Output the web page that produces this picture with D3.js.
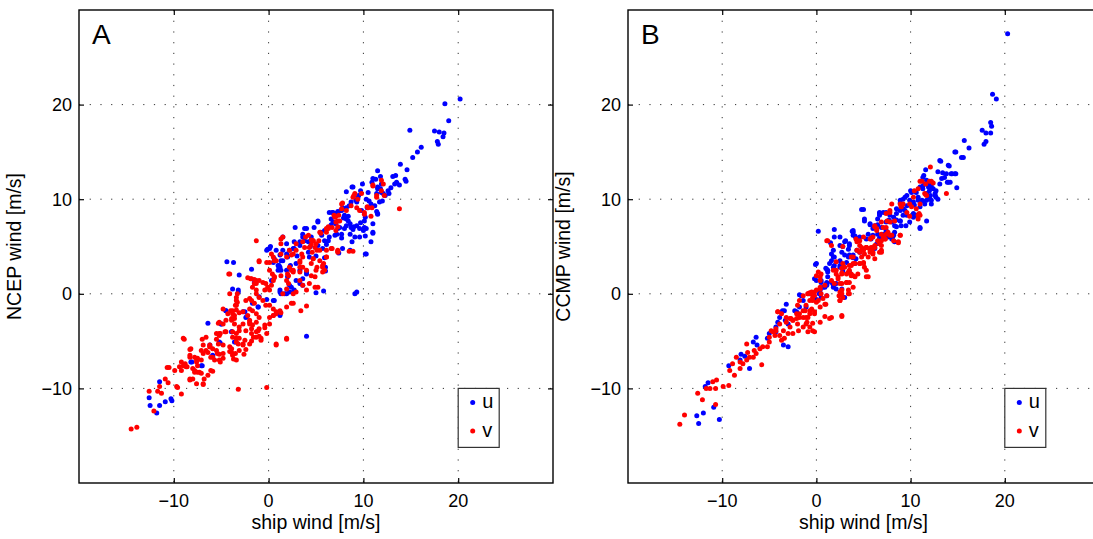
<!DOCTYPE html>
<html>
<head>
<meta charset="utf-8">
<script src="https://cdn.jsdelivr.net/npm/d3@7"></script>
<style>
body { margin: 0; background: #fff; }
text { font-family: "Liberation Sans", Arial, Helvetica, sans-serif; fill: #000; }
</style>
</head>
<body>
<div id="chart"></div>
<script>
// axis setup
var axisDomain = [-20, 30];
var xTicks = [-10, 0, 10, 20];
var yTicks = [-10, 0, 10, 20];
var panelNames = ["A", "B"];
var yTitles = ["NCEP wind [m/s]", "CCMP wind [m/s]"];
var xTitle = "ship wind [m/s]";
var seriesNames = ["u", "v"];
var seriesColors = ["#0000ff", "#ff0000"];

// [ship, model] pairs, panel A (NCEP)
var ncepU = [
 [20.2,20.6],[18.6,20.1],[19.0,18.3],[14.9,17.3],[17.5,17.2],[18.0,17.1],[18.5,17.0],[18.4,16.6],[17.8,16.1],[17.9,15.8],
 [16.1,15.5],[15.7,15.0],[15.2,14.4],[13.9,13.7],[14.6,13.1],[11.5,13.0],[11.8,12.4],[13.1,12.4],[13.4,12.5],[11.0,12.2],
 [11.3,12.1],[13.3,11.6],[13.5,11.8],[14.4,12.1],[14.5,11.9],[13.8,11.5],[11.5,11.3],[11.8,11.1],[11.5,11.1],[11.9,10.7],
 [12.6,10.9],[12.7,10.6],[12.3,10.4],[11.4,10.6],[8.2,10.8],[8.9,11.3],[9.7,10.9],[9.5,10.4],[9.4,10.1],[9.3,9.7],
 [8.7,9.7],[8.5,9.3],[8.2,9.1],[7.8,9.1],[7.6,8.8],[7.3,8.7],[7.1,8.5],[6.7,8.6],[6.4,8.6],[10.3,10.0],
 [10.6,9.8],[10.8,9.5],[10.4,9.1],[11.2,9.3],[11.4,8.7],[11.5,8.5],[10.2,8.1],[10.1,7.7],[9.7,7.5],[10.1,7.0],
 [10.3,6.9],[11.0,6.4],[10.2,6.1],[8.2,7.9],[8.6,7.4],[9.0,7.1],[8.9,6.8],[8.0,6.9],[7.5,7.0],[7.2,6.3],
 [7.0,6.2],[7.7,5.9],[6.4,6.0],[6.3,5.6],[6.1,5.2],[5.7,4.8],[5.2,7.7],[4.8,7.0],[4.0,6.9],[3.6,6.0],
 [3.8,5.6],[3.3,5.5],[2.8,7.0],[2.7,4.8],[2.2,4.6],[1.5,6.0],[1.9,4.2],[1.3,3.5],[1.1,2.8],[1.0,2.5],
 [0.5,3.3],[-0.1,4.7],[0.2,5.0],[-1.8,2.6],[-3.1,2.0],[-3.7,3.3],[-4.4,3.4],[6.0,2.8],[6.0,2.4],[10.2,4.2],
 [9.1,0.0],[4.0,-4.5],[-12.6,-11.0],[-12.5,-11.8],[-11.8,-12.6],[-11.5,-11.8],[-10.9,-11.4],[-10.2,-11.3],[-11.5,-9.3],[-8.1,-7.2],
 [-7.0,-7.6],[-6.4,-3.1],[-5.9,-6.6],[-5.1,-5.2],[-5.0,-3.2],[-4.5,-1.8],[-3.9,-4.0],[-3.5,-5.1],[-2.5,-1.9],[-2.3,-2.4],
 [-1.5,1.2],[-1.1,-1.4],[-3.2,0.2],[-3.8,0.5],[-0.2,-0.6],[0.6,-0.7],[1.2,-2.2],[1.2,0.4],[1.3,0.0],[1.9,0.0],
 [2.4,0.7],[2.6,0.2],[3.3,1.1],[3.6,1.6],[4.0,2.3],[4.3,3.9],[5.0,4.0],[2.9,3.2],[1.5,3.5],[1.9,2.5],
 [3.3,2.5],[5.8,0.3],[5.0,0.1],[1.2,2.8],[1.0,3.0],[1.2,-2.1],[5.5,6.5],[6.8,7.6],[7.9,8.0],[9.8,8.8],
 [9.2,9.9],[5.9,3.8],[4.4,5.0],[3.0,4.0],[7.4,4.3],[8.8,5.5],[9.6,6.0],[12.0,9.8],[12.9,11.2],[10.9,11.8],
 [10.5,10.7],[9.9,11.6],[8.4,8.2],[6.6,7.3],[4.2,4.4],[2.3,3.0],
 [8.8,11.3],[6.8,8.6],[7.2,8.4],[7.7,8.8],[8.0,8.3],[8.4,7.7],[8.2,7.2],[8.7,7.0],[9.3,7.2],[9.6,6.9],
 [10.0,6.7],[8.6,6.3],[9.1,6.0],[7.7,6.3],[7.3,6.9],[6.6,7.9],[7.1,7.4],[6.3,7.0],[5.9,6.7],[5.6,6.2],
 [5.2,7.6],[3.8,6.9],[3.6,6.3],[4.5,6.0],[4.2,5.5],[3.3,5.1],[2.7,5.5],[2.6,4.8],[1.9,5.3],[1.5,4.6],
 [2.0,3.9],[1.2,4.1],[0.8,4.6],[0.1,4.8],[0.6,3.7],[1.1,3.0],[1.3,2.5],[-0.2,4.6],[0.3,1.4],[2.2,0.9],
 [2.9,1.4],[3.6,0.9],[2.7,0.4],[1.7,0.0],[2.0,1.8],[4.0,2.1],[5.2,5.1],[5.9,5.6],[7.8,4.8],[8.6,4.6],
 [10.3,4.2],[10.8,5.5],[11.0,6.5],[11.5,8.4],[11.0,7.4],[11.7,9.7],[12.1,10.6],[11.9,11.6],[9.3,0.2],
 [-5.0,-3.2],[-3.9,-4.0],[-5.2,-5.1],[-3.6,-5.1],[-6.2,-5.4],[-5.9,-6.5],[-8.2,-7.2],[-7.1,-7.6],[-4.5,-1.8],[-2.7,-1.9],
 [-2.4,-2.5],[-1.7,-1.0],[-1.1,-1.4],[0.5,-0.7],[1.2,-2.3],[2.2,0.2],[1.2,0.2],[-1.0,-0.3],[-3.2,0.4],[-10.3,-11.1]
];
var ncepV = [
 [13.8,9.0],[11.0,11.5],[11.9,12.0],[12.1,11.6],[11.4,10.4],[12.2,10.4],[9.8,10.6],[9.0,10.4],[9.4,10.0],[10.4,9.2],
 [10.1,8.6],[10.9,9.1],[10.8,8.2],[7.8,9.6],[7.7,9.0],[7.1,8.2],[6.9,8.3],[7.4,8.3],[7.1,7.6],[6.7,7.0],
 [7.5,7.7],[7.3,7.1],[6.3,7.1],[6.1,6.9],[5.5,6.4],[6.1,6.5],[4.5,5.7],[4.7,5.6],[5.0,5.3],[4.5,5.2],
 [4.9,4.9],[5.1,4.6],[4.6,4.4],[4.3,4.9],[3.8,4.9],[3.9,6.0],[2.9,5.3],[3.5,4.2],[3.6,3.9],[3.3,3.5],
 [4.5,3.2],[5.8,3.2],[5.1,2.8],[5.7,2.3],[6.1,4.6],[7.3,4.5],[8.5,4.5],[8.9,4.5],[6.7,4.8],[5.3,5.6],
 [1.3,5.8],[0.3,4.2],[0.6,3.5],[0.1,3.3],[-1.3,5.6],[-1.0,3.4],[-1.5,1.5],[-1.9,1.6],[-2.2,1.7],[-4.1,2.1],
 [0.4,2.1],[0.6,1.7],[2.6,4.2],[2.6,2.3],[2.4,2.5],[2.0,2.1],[4.5,1.9],[4.9,1.8],
 [-14.5,-14.3],[-13.9,-14.1],[-12.1,-12.4],[-12.6,-10.3],[-11.5,-9.8],[-11.3,-10.5],[-11.7,-10.3],[-10.9,-9.0],[-10.6,-9.4],[-9.6,-9.9],
 [-9.2,-10.6],[-9.9,-8.1],[-10.7,-7.8],[-10.5,-7.8],[-9.2,-7.2],[-9.4,-7.7],[-9.0,-7.6],[-8.8,-7.4],[-8.6,-7.7],[-8.9,-4.8],
 [-8.3,-5.9],[-8.3,-6.7],[-7.8,-6.7],[-7.6,-7.0],[-7.5,-7.6],[-8.0,-7.9],[-7.8,-8.3],[-7.3,-8.3],[-7.6,-9.5],[-6.9,-9.6],
 [-6.4,-8.6],[-5.9,-8.2],[-8.0,-9.0],[-8.3,-9.0],
 [-7.0,-4.8],[-6.6,-4.6],[-6.9,-5.4],[-7.1,-6.0],[-6.6,-6.0],[-6.4,-6.2],[-6.2,-5.4],[-6.2,-5.6],[-5.9,-5.8],[-5.5,-6.0],
 [-6.1,-6.7],[-5.7,-7.0],[-5.2,-6.4],[-5.1,-7.2],[-4.8,-6.8],[-5.3,-5.3],[-5.5,-4.8],[-5.2,-4.4],[-4.6,-4.0],[-4.5,-2.8],
 [-3.9,-2.8],[-3.6,-2.6],[-5.3,-3.1],[-5.1,-4.2],[-4.8,-5.4],[-4.1,-5.6],[-3.9,-6.2],[-3.7,-6.9],[-3.5,-6.3],[-3.1,-6.0],
 [-2.6,-6.4],[-2.4,-5.9],[-3.2,-5.3],[-3.4,-4.7],[-3.1,-4.7],[-2.7,-5.4],[-2.5,-4.9],[-1.8,-5.0],[-1.6,-4.6],[-1.3,-4.0],
 [-1.0,-4.5],[-0.8,-4.7],[-1.0,-3.7],[-0.4,-3.6],[-1.7,-3.3],[-1.3,-3.0],[-2.0,-3.0],[-1.8,-3.7],[-2.4,-3.9],[-3.1,-3.9],
 [-3.4,-4.2],[-3.2,-10.1],[-0.2,-9.9],[0.8,-5.4],[1.9,-4.8],[2.6,-1.0],[3.4,-1.8],[4.0,-1.3],[1.3,-2.0],[0.8,-2.1],
 [0.5,-2.3],[-4.2,2.1],[-4.1,0.0],[-3.4,-0.4],[-3.3,-0.9],[-3.5,-1.2],[-3.8,-1.8],[-3.6,-2.3],[-3.9,-2.6],[-3.3,0.0],
 [-4.8,-1.6],[-4.3,-2.1],[-4.0,-1.8],[-3.4,-1.7],[-3.1,-2.0],[-2.7,-1.9],[-2.4,-0.7],[-1.8,-0.7],[-1.5,-1.0],[-1.7,-1.8],
 [-2.2,-2.3],[-2.0,-2.8],[-1.3,-2.1],[-1.0,-2.5],[-1.3,0.4],[-1.5,1.1],[-1.3,1.4],[-0.6,1.2],[-0.3,1.1],[-0.1,0.7],
 [0.1,0.4],[0.3,0.9],[0.5,1.4],[-1.0,-0.4],[-0.6,-0.7],[-0.3,-1.2],[0.1,-1.2],[0.5,-1.6],[-1.3,0.0],
 [0.5,3.9],[0.8,3.5],[1.3,4.2],[1.9,3.9],[2.4,4.1],[3.3,3.3],[3.6,2.8],[4.7,3.7],[5.4,3.5],[6.1,3.9],
 [7.3,4.4],[2.1,1.9],[1.3,1.9],[0.6,1.8],[3.3,1.4],[3.6,0.9],[4.0,0.4],[5.2,0.7],[5.7,3.0],[5.9,2.5],
 [2.6,0.0],[2.9,0.2],[2.1,1.1],[3.3,2.3],
 [-1.0,3.5],[1.5,6.0],[1.3,5.3],[2.2,4.6],[2.9,4.6],[3.6,5.5],[4.2,6.2],[4.7,5.6],[5.4,4.6],[4.7,3.7],
 [6.1,3.9],[5.4,6.5],[6.3,6.9],[7.1,6.7],[7.3,4.6],[6.6,4.8],[7.0,8.1],[7.3,7.7],[7.7,9.5],[8.2,8.8],
 [8.7,9.3],[9.3,9.1],[9.6,8.8],[10.1,8.4],[10.5,9.1],[11.0,11.4],[11.4,10.2],[11.9,10.9],[8.9,10.2],[9.1,10.6],
 [-0.2,3.3],[0.1,2.5],[0.6,1.8],[1.9,1.4],[2.6,2.5],[2.2,2.8],[3.3,2.8],[4.0,2.5],[5.0,2.5],[5.7,2.8],
 [4.3,1.1],[4.9,0.7],[1.9,0.5],[1.5,0.0],[-0.4,0.4],[-1.0,1.4],[-1.3,1.1],[-1.7,0.7],[-1.8,1.6],
 [-3.8,-2.1],[-3.4,-1.2],[-3.4,-0.7],[-2.0,-1.6],[-1.1,-3.9],[-2.0,-3.2],[-2.7,-3.2],[-3.1,-3.5],[-3.6,-3.2],[-3.8,-4.0],
 [-4.5,-4.0],[-4.8,-3.2],[-5.2,-3.0],[-5.5,-4.2],[-5.2,-4.2],[-3.8,-4.6],[-3.4,-5.1],[-2.7,-5.3],[-2.0,-5.3],[-1.8,-4.2],
 [-1.3,-4.6],[-0.8,-4.9],[-0.4,-3.3],[0.1,-2.5],[0.5,-2.3],[0.8,-1.9],[1.2,-1.8],[1.9,-1.4],[2.4,-1.0],[0.1,-3.2],
 [-0.2,-4.2],[-3.9,-5.8],[-3.8,-6.5],[-3.4,-7.0],[-4.1,-6.1],[-4.8,-6.3],[-5.4,-6.3],[-5.2,-7.0],[-5.9,-6.7],[-6.9,-6.3],
 [-6.2,-5.6],[-7.1,-7.0],[-7.5,-6.8],[-7.6,-7.2],[-7.8,-8.1],[-7.5,-8.3],[-7.1,-8.4],[-6.8,-9.0],[-6.1,-8.1],[-6.9,-9.5],
 [-8.3,-9.1],[-8.7,-7.7],[-9.2,-8.1],[-8.3,-6.5],[-8.2,-5.8],[-9.0,-4.7],[0.8,-5.3],[1.9,-4.7],[-9.7,-9.8],[-2.0,-0.5]
];

// panel B (CCMP)
var ccmpU = [
 [20.3,27.5],[18.7,21.1],[19.1,20.6],[18.5,18.1],[18.6,17.7],[17.6,17.3],[18.0,17.0],[18.5,17.0],[18.0,16.1],[17.8,15.8],
 [15.7,16.2],[16.2,15.4],[14.7,15.0],[15.4,14.4],[13.2,14.0],[14.0,13.6],[14.7,12.7],[14.4,12.7],[13.4,12.8],[13.3,12.2],
 [13.9,11.8],[14.9,11.2],[12.9,12.9],[11.6,13.1],[11.4,12.5],[11.7,12.0],[11.3,11.4],[11.9,11.6],[12.2,11.3],[12.4,11.1],
 [12.7,10.9],[12.6,10.4],[12.1,10.4],[12.2,9.9],[11.7,9.9],[11.3,9.8],[10.8,9.9],[10.4,9.4],[10.0,10.9],[9.6,10.4],
 [9.2,10.0],[8.9,9.6],[8.5,9.0],[8.9,8.8],[9.4,8.8],[9.6,8.3],[10.3,8.5],[10.6,8.3],[11.0,7.0],[9.5,7.2],
 [9.0,7.2],[8.5,7.8],[8.0,7.6],[7.7,7.8],[7.4,8.6],[6.7,8.6],[6.7,8.3],[6.5,7.3],[6.0,6.9],[5.7,7.3],
 [5.1,7.9],[4.8,8.9],[3.8,6.6],[3.9,6.2],[4.2,5.9],[2.5,6.0],[1.9,6.8],[1.5,5.4],[3.1,5.6],[2.8,5.0],
 [3.4,4.7],[3.5,4.1],[3.0,4.1],[3.9,3.8],[2.5,3.5],[1.8,4.6],[1.8,3.9],[1.6,3.5],[1.9,3.0],[2.5,2.8],
 [2.8,2.4],[1.2,2.5],[1.0,2.7],[-0.1,3.1],[0.2,6.6],[0.0,1.4],[0.5,1.4],[1.1,1.2],[0.7,0.7],[-0.7,0.0],
 [0.3,0.0],[0.5,-0.4],[1.8,0.9],[2.1,0.5],[2.7,0.5],[3.0,-0.4],[6.7,5.9],[6.5,6.3],[7.2,6.3],[7.6,6.0],
 [8.1,6.0],[8.3,6.5],[8.5,7.1],[8.9,7.7],[8.0,6.2],[1.1,2.6],[1.2,1.8],[1.6,1.2],[1.1,0.9],[0.9,0.7],
 [1.8,0.7],[2.1,1.1],[1.1,-0.2],[0.0,-0.6],[-1.8,-0.1],[-1.1,-1.4],[-3.2,-1.1],[-3.6,-1.8],[-3.9,-2.5],[-4.3,-3.5],
 [-5.2,-4.7],[-6.4,-4.6],[-6.7,-5.1],[-6.3,-5.4],[-8.0,-6.4],[-9.3,-7.6],[-7.1,-7.9],[-11.5,-9.4],[-11.8,-9.8],[-12.0,-12.6],
 [-12.7,-12.9],[-12.5,-13.7],[-10.9,-12.0],[-10.3,-13.3],[-2.1,-1.9],[-3.3,-2.8],[-3.5,-5.4],[-3.0,-5.6],[-4.3,-4.0],[-5.0,-4.2],
 [-7.6,-6.6],[-8.1,-7.0],
 [1.9,6.0],[2.5,5.1],[3.0,5.5],[3.5,5.3],[3.9,6.5],[4.6,6.0],[1.6,4.2],[1.9,3.9],[1.4,3.2],[1.8,2.8],
 [2.5,3.0],[2.8,2.8],[3.2,3.3],[3.4,3.9],[3.9,4.1],[4.2,3.7],[4.6,4.4],[0.0,3.2],[-0.2,1.6],[0.5,1.2],
 [1.1,1.1],[1.2,2.3],[0.4,0.4],[-1.6,-0.2],[-1.4,-0.7],[-2.3,-1.8],[-3.4,-1.8],[-4.1,-3.0],[-3.0,-3.2],[-1.8,-1.4],
 [2.7,4.4],[5.8,5.8],[6.4,5.3],[6.2,4.8],[3.5,2.3],[4.1,3.2],
 [14.8,15.0],[15.6,14.4],[13.1,14.1],[14.1,13.5],[13.8,12.7],[14.3,12.7],[14.8,12.7],[13.6,12.3],[14.0,11.8],[13.1,11.6],
 [14.2,11.8],[12.2,11.6],[11.3,12.3],[11.5,11.6],[11.9,11.3],[12.0,10.9],[12.6,10.6],[12.7,10.2],[12.9,10.0],[12.0,10.2],
 [11.7,10.6],[11.3,11.1],[11.0,11.3],[10.6,10.7],[10.8,10.2],[11.2,9.9],[11.5,9.5],[12.2,9.5],[11.0,9.2],[10.3,9.7],
 [9.9,9.9],[10.1,10.7],[9.4,10.2],[8.9,9.9],[9.6,9.3],[9.2,9.0],[8.5,8.5],[8.2,8.1],[7.8,8.3],[7.4,7.6],
 [7.1,8.6],[6.7,8.5],[6.5,7.9],[6.9,7.0],[6.2,7.2],[5.7,7.4],[5.1,7.7],[5.0,8.9],[5.5,6.3],[6.0,6.2],
 [5.3,5.8],[7.1,6.3],[7.4,6.7],[8.2,6.2],[8.0,5.8],[8.3,5.5],[3.9,6.7],[4.1,6.1],[3.5,5.1],[4.3,4.6],
 [11.0,6.9],[11.7,7.7],[9.9,7.6],[10.3,8.1],[9.2,8.3],[8.9,7.7],[8.3,7.2]
];
var ccmpV = [
 [12.1,13.4],[11.0,11.9],[12.2,11.9],[12.4,11.7],[11.6,11.6],[11.6,10.5],[13.8,10.6],[10.8,11.1],[10.4,10.9],[10.3,10.2],
 [10.8,8.3],[10.9,8.5],[9.9,8.2],[9.9,9.5],[8.9,9.5],[9.0,9.2],[8.0,9.5],[7.8,8.8],[7.5,7.7],[7.4,7.0],
 [6.9,7.6],[6.4,6.9],[6.2,7.1],[5.8,5.9],[6.0,4.2],[6.9,4.4],[8.9,6.2],[8.7,5.4],[7.8,6.2],[7.3,5.8],
 [6.9,5.6],[6.7,5.3],[6.2,5.1],[5.8,4.9],[5.3,4.9],[4.8,4.9],[4.6,4.4],[4.3,4.6],[3.9,3.9],[5.0,3.2],
 [4.6,3.2],[4.1,3.2],[3.7,3.0],[3.5,2.5],[3.2,2.1],[2.7,2.2],[2.1,2.1],[5.3,1.8],[3.9,1.9],[3.0,2.8],
 [1.9,1.1],[1.6,1.4],[0.4,1.4],[0.0,1.9],[0.5,2.1],[2.8,3.2],[2.1,3.4],[1.1,5.6],[2.8,5.0],[0.9,0.9],
 [0.4,0.5],[-0.2,0.2],[-0.7,0.1],[-1.4,-0.2],[2.4,-0.2],[3.4,0.0],[2.7,0.4],[3.5,1.2],
 [-0.9,0.0],[-0.5,0.0],[-0.2,-0.2],[-0.4,-0.7],[0.0,-0.9],[0.5,0.0],[0.7,-0.5],[1.0,-1.1],[0.4,-1.4],[2.5,-0.7],
 [2.7,0.0],[3.9,0.7],[3.2,1.2],[2.5,1.1],[2.3,1.8],[1.8,2.5],[2.7,2.7],[3.5,3.0],[3.9,3.2],[3.7,1.9],
 [4.1,1.8],[5.1,2.8],[4.8,3.9],[5.1,4.2],[6.0,4.4],[6.7,4.4],[-1.8,-0.7],[-2.0,-1.2],[-1.2,-1.8],[-0.7,-2.1],
 [-0.2,-1.9],[-0.5,-1.6],[-1.1,-2.5],[-1.8,-2.5],[-2.1,-2.1],[-2.5,-2.8],[-2.8,-2.6],[-3.2,-3.0],[-3.9,-3.2],[-4.3,-3.9],
 [-4.4,-4.4],[-3.9,-4.4],[-3.7,-4.9],[-3.4,-4.7],[-3.0,-4.2],[-2.5,-4.2],[-1.9,-3.9],[-1.4,-3.5],[-0.9,-4.0],[-0.2,-4.0],
 [-1.0,-3.0],[-0.4,-3.1],[0.4,-3.0],[0.9,-2.4],[1.4,-2.6],[2.7,-2.4],[-4.1,-1.9],[-4.8,-3.9],[-5.2,-5.6],[-5.0,-5.1],
 [-5.7,-5.6],[-6.0,-5.8],[-6.4,-6.3],[-6.7,-6.7],[-7.1,-6.7],[-7.4,-7.0],[-7.8,-7.4],[-8.1,-7.2],[-8.5,-6.7],[-8.9,-7.4],
 [-9.2,-8.1],[-8.7,-8.6],[-8.1,-7.9],[-7.3,-6.2],[-7.4,-5.3],[-6.6,-6.0],[-5.8,-7.5],[-9.3,-9.7],[-9.9,-9.8],[-10.6,-9.1],
 [-11.0,-9.3],[-11.3,-10.0],[-11.7,-10.0],[-12.6,-10.5],[-12.1,-11.2],[-10.7,-11.7],[-14.0,-12.8],[-14.5,-13.8],[-10.7,-10.0],
 [1.2,5.6],[1.6,5.1],[4.2,5.8],[4.6,5.1],[5.0,4.6],[5.3,4.9],[5.7,4.4],[6.2,4.9],[6.5,5.6],[6.9,5.1],
 [7.1,6.0],[7.4,6.3],[4.6,3.2],[5.0,3.3],[5.3,2.5],[5.5,1.8],[4.4,2.1],[3.7,2.1],[3.4,2.3],[2.7,2.1],
 [2.1,2.5],[2.3,1.6],[2.7,1.1],[3.2,1.2],[2.5,0.2],[3.4,0.4],[3.5,0.0],[2.8,-0.4],[2.5,-0.7],[0.2,2.3],
 [0.4,1.8],[0.4,0.7],[0.0,0.4],[-0.5,0.2],[-0.9,0.0],[-0.4,-0.4],[0.2,-0.7],[0.9,-1.1],[1.1,-0.2],[-0.7,-0.7],
 [-1.1,-1.2],[-1.4,-1.8],[-0.7,-1.8],[-0.2,-2.1],[-0.9,-2.5],[-1.4,-2.5],[-1.8,-2.1],[-2.1,-2.6],[-2.5,-2.8],[-2.0,-3.2],
 [-1.1,-3.2],[-0.7,-3.5],[-0.4,-3.9],[-2.8,-3.5],[-3.5,-3.9],[-4.3,-3.7],[-4.6,-4.0],[-5.0,-4.6],[-4.1,-1.9],[-2.7,-2.6],
 [1.6,-2.5],[2.7,-2.3],[-3.2,-2.5],[-3.7,-2.1],
 [11.2,11.9],[12.0,11.9],[11.5,10.6],[11.7,10.4],[11.0,9.5],[10.6,9.0],[10.1,9.2],[9.2,9.5],[9.0,9.2],[9.6,8.6],
 [7.8,8.6],[7.4,8.5],[8.3,7.7],[7.8,7.6],[7.1,7.0],[6.4,6.7],[6.2,7.2],[6.9,6.3],[7.3,5.8],[6.0,6.0],
 [5.7,5.8],[5.0,6.0],[4.6,5.6],[4.3,5.5],[5.3,4.9],[4.8,4.6],[5.7,4.6],[6.0,4.9],[6.9,4.6],[8.9,6.2],
 [8.7,5.5],[8.2,5.6],[11.0,8.3],[10.8,7.9],[8.0,6.2],[7.6,6.5],[3.7,3.9],[6.2,3.7],[5.5,3.9]
];

var W = 1093, H = 539;
var plotTop = 10, plotBottom = 483;

var svg = d3.select("#chart").append("svg")
    .attr("width", W)
    .attr("height", H);

svg.append("rect").attr("width", W).attr("height", H).attr("fill", "#fff");

function drawPanel(left, right, idx, uPts, vPts) {
  var x = d3.scaleLinear().domain(axisDomain).range([left, right]);
  var y = d3.scaleLinear().domain(axisDomain).range([plotBottom, plotTop]);

  var g = svg.append("g");

  // dotted grid
  g.selectAll(".vgrid").data(xTicks).enter().append("line")
    .attr("x1", function(d){ return x(d); }).attr("x2", function(d){ return x(d); })
    .attr("y1", plotTop).attr("y2", plotBottom)
    .attr("stroke", "#333").attr("stroke-width", 1)
    .attr("stroke-dasharray", "1.2,9.5");
  g.selectAll(".hgrid").data(yTicks).enter().append("line")
    .attr("y1", function(d){ return y(d); }).attr("y2", function(d){ return y(d); })
    .attr("x1", left).attr("x2", right)
    .attr("stroke", "#333").attr("stroke-width", 1)
    .attr("stroke-dasharray", "1.2,9.5");

  // points
  var series = [uPts, vPts];
  series.forEach(function(pts, s){
    g.append("g").selectAll("circle").data(pts).enter().append("circle")
      .attr("cx", function(d){ return x(d[0]); })
      .attr("cy", function(d){ return y(d[1]); })
      .attr("r", 2.5)
      .attr("fill", seriesColors[s]);
  });

  // axes: inward ticks on all four sides
  var tl = 5;
  g.append("g").attr("transform", "translate(0," + plotBottom + ")")
    .call(d3.axisBottom(x).tickValues(xTicks).tickSize(-tl).tickFormat(""))
    .call(function(a){ a.select(".domain").remove(); });
  g.append("g").attr("transform", "translate(0," + plotTop + ")")
    .call(d3.axisTop(x).tickValues(xTicks).tickSize(-tl).tickFormat(""))
    .call(function(a){ a.select(".domain").remove(); });
  g.append("g").attr("transform", "translate(" + left + ",0)")
    .call(d3.axisLeft(y).tickValues(yTicks).tickSize(-tl).tickFormat(""))
    .call(function(a){ a.select(".domain").remove(); });
  g.append("g").attr("transform", "translate(" + right + ",0)")
    .call(d3.axisRight(y).tickValues(yTicks).tickSize(-tl).tickFormat(""))
    .call(function(a){ a.select(".domain").remove(); });
  g.selectAll(".tick line").attr("stroke", "#000").attr("stroke-width", 1.2);

  g.append("rect")
    .attr("x", left).attr("y", plotTop)
    .attr("width", right - left).attr("height", plotBottom - plotTop)
    .attr("fill", "none").attr("stroke", "#000").attr("stroke-width", 1.4);

  function fmt(d){ return d < 0 ? "\u2212" + Math.abs(d) : String(d); }

  g.selectAll(".xl").data(xTicks).enter().append("text")
    .attr("x", function(d){ return x(d); })
    .attr("y", plotBottom + 24)
    .attr("text-anchor", "middle")
    .style("font-size", "18px")
    .text(fmt);
  g.selectAll(".yl").data(yTicks).enter().append("text")
    .attr("x", left - 7)
    .attr("y", function(d){ return y(d) + 6.5; })
    .attr("text-anchor", "end")
    .style("font-size", "18px")
    .text(fmt);

  g.append("text")
    .attr("x", x(5))
    .attr("y", 529)
    .attr("text-anchor", "middle")
    .style("font-size", "19.5px")
    .text(xTitle);

  g.append("text")
    .attr("transform", "translate(" + (left - 58) + "," + ((plotTop + plotBottom) / 2) + ") rotate(-90)")
    .attr("text-anchor", "middle")
    .style("font-size", "19.5px")
    .text(yTitles[idx]);

  g.append("text")
    .attr("x", left + 13)
    .attr("y", plotTop + 34)
    .style("font-size", "28px")
    .text(panelNames[idx]);

  // legend, top-left corner sits at (20, -10)
  var lx = x(20), ly = y(-10);
  var lg = g.append("g");
  lg.append("rect")
    .attr("x", lx).attr("y", ly)
    .attr("width", 41).attr("height", 59)
    .attr("fill", "#fff").attr("stroke", "#333").attr("stroke-width", 1.2);
  seriesNames.forEach(function(n, i){
    lg.append("circle")
      .attr("cx", lx + 14.5).attr("cy", ly + 14 + i * 28.5)
      .attr("r", 2.5).attr("fill", seriesColors[i]);
    lg.append("text")
      .attr("x", lx + 24).attr("y", ly + 20 + i * 28.5)
      .style("font-size", "20px")
      .text(n);
  });
}

drawPanel(79, 553, 0, ncepU, ncepV);
drawPanel(628, 1099, 1, ccmpU, ccmpV);
</script>
</body>
</html>
